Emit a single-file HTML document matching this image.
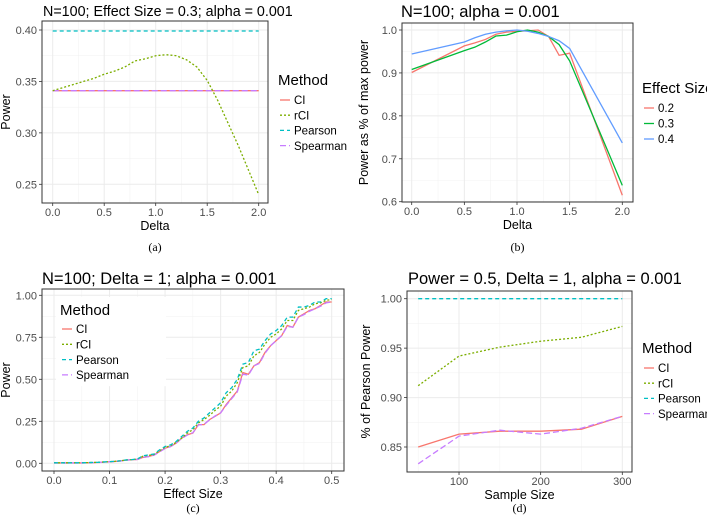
<!DOCTYPE html>
<html><head><meta charset="utf-8">
<style>
html,body{margin:0;padding:0;background:#fff;}
svg{display:block;font-family:"Liberation Sans",sans-serif;}
.cap{font-family:"Liberation Serif",serif;}
</style></head>
<body>
<svg id="fig" width="707" height="522" viewBox="0 0 707 522"></svg>
<script>
// ---- Panel (a) data ----
const aDelta = [0,0.1,0.2,0.3,0.4,0.5,0.6,0.7,0.8,0.9,1.0,1.1,1.2,1.3,1.4,1.5,1.6,1.7,1.8,1.9,2.0];
const aRCI = [0.341,0.344,0.347,0.350,0.353,0.357,0.360,0.364,0.370,0.372,0.375,0.376,0.375,0.371,0.364,0.351,0.332,0.310,0.288,0.264,0.240];
const aCI = [0.341,0.341,0.341,0.341,0.341,0.341,0.341,0.341,0.341,0.341,0.341,0.341,0.341,0.341,0.341,0.341,0.341,0.341,0.341,0.341,0.341];
const aPearson = [0.399,0.399,0.399,0.399,0.399,0.399,0.399,0.399,0.399,0.399,0.399,0.399,0.399,0.399,0.399,0.399,0.399,0.399,0.399,0.399,0.399];
const aSpearman = aCI.slice();
const aXTicks = [0,0.5,1,1.5,2];
const aXLabels = ["0.0","0.5","1.0","1.5","2.0"];
const aYTicks = [0.25,0.30,0.35,0.40];
const aYLabels = ["0.25","0.30","0.35","0.40"];
// ---- Panel (b) data ----
const bDelta = [0,0.5,0.6,0.7,0.8,0.9,1.0,1.1,1.2,1.3,1.4,1.5,2.0];
const bES02 = [0.901,0.963,0.970,0.978,0.990,0.995,0.997,0.998,1.000,0.985,0.941,0.946,0.615];
const bES03 = [0.908,0.952,0.960,0.972,0.986,0.988,0.996,1.000,0.995,0.985,0.966,0.928,0.638];
const bES04 = [0.944,0.972,0.982,0.990,0.995,0.998,1.000,0.997,0.992,0.985,0.975,0.957,0.737];
const bXTicks = [0,0.5,1,1.5,2];
const bXLabels = ["0.0","0.5","1.0","1.5","2.0"];
const bYTicks = [0.6,0.7,0.8,0.9,1.0];
const bYLabels = ["0.6","0.7","0.8","0.9","1.0"];
// ---- Panel (c) data ----
const cES = [0,0.01,0.02,0.03,0.04,0.05,0.06,0.07,0.08,0.09,0.1,0.11,0.12,0.13,0.14,0.15,0.16,0.17,0.18,0.19,0.2,0.21,0.22,0.23,0.24,0.25,0.26,0.27,0.28,0.29,0.3,0.31,0.32,0.33,0.34,0.35,0.36,0.37,0.38,0.39,0.4,0.41,0.42,0.43,0.44,0.45,0.46,0.47,0.48,0.49,0.5];
const cPearson = [0.003,0.003,0.003,0.003,0.003,0.003,0.004,0.005,0.006,0.008,0.010,0.012,0.015,0.020,0.022,0.025,0.045,0.050,0.055,0.080,0.100,0.110,0.130,0.160,0.190,0.210,0.250,0.270,0.300,0.330,0.360,0.420,0.450,0.500,0.590,0.600,0.670,0.680,0.730,0.770,0.790,0.820,0.870,0.870,0.930,0.930,0.940,0.960,0.960,0.980,0.980];
const cRCI = [0.003,0.003,0.003,0.003,0.003,0.003,0.004,0.005,0.006,0.008,0.010,0.012,0.015,0.020,0.022,0.025,0.042,0.047,0.052,0.075,0.095,0.105,0.125,0.150,0.180,0.200,0.240,0.260,0.285,0.315,0.340,0.400,0.430,0.480,0.570,0.580,0.640,0.660,0.710,0.750,0.770,0.800,0.850,0.850,0.910,0.920,0.930,0.950,0.955,0.970,0.975];
const cCI = [0.002,0.002,0.002,0.002,0.002,0.002,0.003,0.004,0.005,0.007,0.009,0.011,0.014,0.019,0.021,0.023,0.035,0.040,0.050,0.070,0.090,0.100,0.120,0.150,0.170,0.180,0.230,0.230,0.260,0.280,0.300,0.350,0.390,0.430,0.540,0.530,0.580,0.600,0.660,0.700,0.730,0.760,0.820,0.810,0.870,0.890,0.910,0.920,0.940,0.960,0.960];
const cSpearman = [0.002,0.002,0.002,0.002,0.002,0.002,0.003,0.004,0.005,0.007,0.009,0.011,0.014,0.019,0.021,0.023,0.035,0.040,0.048,0.068,0.088,0.100,0.120,0.148,0.168,0.182,0.228,0.232,0.258,0.282,0.300,0.345,0.385,0.425,0.530,0.525,0.580,0.595,0.655,0.700,0.730,0.760,0.815,0.810,0.870,0.885,0.905,0.920,0.935,0.955,0.960];
const cXTicks = [0,0.1,0.2,0.3,0.4,0.5];
const cXLabels = ["0.0","0.1","0.2","0.3","0.4","0.5"];
const cYTicks = [0,0.25,0.5,0.75,1];
const cYLabels = ["0.00","0.25","0.50","0.75","1.00"];
// ---- Panel (d) data ----
const dN = [50,100,150,200,250,300];
const dPearson = [1,1,1,1,1,1];
const dRCI = [0.912,0.942,0.951,0.957,0.961,0.972];
const dCI = [0.850,0.863,0.866,0.866,0.868,0.881];
const dSpearman = [0.833,0.861,0.867,0.863,0.869,0.881];
const dXTicks = [100,200,300];
const dXLabels = ["100","200","300"];
const dYTicks = [0.85,0.90,0.95,1.00];
const dYLabels = ["0.85","0.90","0.95","1.00"];

const NS="http://www.w3.org/2000/svg";
const svg=document.getElementById('fig');
function mk(tag,attrs,parent,text){
  const e=document.createElementNS(NS,tag);
  for(const k in attrs) e.setAttribute(k,attrs[k]);
  if(text!==undefined) e.textContent=text;
  (parent||svg).appendChild(e);
  return e;
}
const RED="#F8766D",OLIVE="#7CAE00",CYAN="#00BFC4",PURPLE="#C77CFF",GREEN="#00BA38",BLUE="#619CFF";

function panel(p){
  const g=mk('g',{});
  
  
  const sx=v=>p.px0+(v-p.x0)/(p.x1-p.x0)*(p.px1-p.px0);
  const sy=v=>p.py0+(v-p.y0)/(p.y1-p.y0)*(p.py1-p.py0);
  mk('rect',{x:p.bx0,y:p.by0,width:p.bx1-p.bx0,height:p.by1-p.by0,fill:'#fff'},g);
  const mg=mk('g',{},g);
  
  
  const xs=p.xt, ys=p.yt;
  const xstep=xs[1]-xs[0], ystep=ys[1]-ys[0];
  for(let v=xs[0]-xstep/2; ;v+=xstep){const X=sx(v); if(X>p.bx1) break; if(X>p.bx0) mk('line',{x1:X,x2:X,y1:p.by0,y2:p.by1,stroke:'#f3f3f3','stroke-width':0.6},mg);}
  for(let v=ys[0]-ystep/2; ;v+=ystep){const Y=sy(v); if(Y<p.by0) break; if(Y<p.by1) mk('line',{x1:p.bx0,x2:p.bx1,y1:Y,y2:Y,stroke:'#f3f3f3','stroke-width':0.6},mg);}
  const gg=mk('g',{},g);
  
  
  xs.forEach((v,i)=>{const X=sx(v);
    mk('line',{x1:X,x2:X,y1:p.by0,y2:p.by1,stroke:'#ebebeb','stroke-width':1},gg);
    mk('line',{x1:X,x2:X,y1:p.by1,y2:p.by1+3,stroke:'#333','stroke-width':0.8},g);
    const t=mk('text',{x:X,y:p.by1+13,'font-size':11,'text-anchor':'middle',fill:'#4d4d4d'},g,p.xl[i]);
    
    
  });
  ys.forEach((v,i)=>{const Y=sy(v);
    mk('line',{x1:p.bx0,x2:p.bx1,y1:Y,y2:Y,stroke:'#ebebeb','stroke-width':1},gg);
    mk('line',{x1:p.bx0-3,x2:p.bx0,y1:Y,y2:Y,stroke:'#333','stroke-width':0.8},g);
    const t=mk('text',{x:p.bx0-5,y:Y+4,'font-size':11,'text-anchor':'end',fill:'#4d4d4d'},g,p.yl[i]);
    
    
  });
  p.series.forEach(s=>{
    const pts=s.x.map((v,i)=>sx(v).toFixed(2)+','+sy(s.y[i]).toFixed(2)).join(' ');
    const l=mk('polyline',{points:pts,fill:'none',stroke:s.c,'stroke-width':1.3,'stroke-dasharray':s.d||'none'},g);
    
    
  });
  const b=mk('rect',{x:p.bx0,y:p.by0,width:p.bx1-p.bx0,height:p.by1-p.by0,fill:'none',stroke:'#333','stroke-width':1},g);
  
  
  const ti=mk('text',{x:p.tx,y:p.ty,'font-size':p.tfs||16.5,fill:'#000'},g,p.title);
  
  
  const xt=mk('text',{x:(p.bx0+p.bx1)/2,y:p.by1+27,'font-size':12.5,'text-anchor':'middle'},g,p.xtitle);
  
  
  const ycx=p.ytx, ycy=(p.by0+p.by1)/2;
  const yt=mk('text',{x:ycx,y:ycy,'font-size':12.5,'text-anchor':'middle',transform:`rotate(-90 ${ycx} ${ycy})`},g,p.ytitle);
  
  
  const cp=mk('text',{x:(p.bx0+p.bx1)/2,y:p.capy,'font-size':12,'text-anchor':'middle',class:'cap'},g,p.cap);
  
  
  const lg=mk('g',{},g);
  
  
  if(p.legBg) mk('rect',{x:p.lx-4,y:p.ly-18,width:110,height:p.leg.length*15.3+28,fill:'#fff'},lg);
  mk('text',{x:p.lx,y:p.ly,'font-size':15},lg,p.legTitle);
  p.leg.forEach((e,i)=>{
    const y=p.ly+p.l0+i*p.ls;
    const le=mk('g',{},lg);
    
    
    mk('line',{x1:p.lx+2,x2:p.lx+12,y1:y,y2:y,stroke:e.c,'stroke-width':1.3,'stroke-dasharray':e.d||'none'},le);
    mk('text',{x:p.lx+16,y:y+4.2,'font-size':11.5},le,e.n);
  });
}
const methodLeg=[{n:'CI',c:RED},{n:'rCI',c:OLIVE,d:'2,2'},{n:'Pearson',c:CYAN,d:'4,3'},{n:'Spearman',c:PURPLE,d:'6,3'}];

panel({name:'panel-a',bx0:42,bx1:268,by0:21,by1:203,px0:52.7,px1:258.7,x0:0,x1:2,py0:184.3,py1:30,y0:0.25,y1:0.40,
  xt:aXTicks,xl:aXLabels,yt:aYTicks,yl:aYLabels,title:'N=100; Effect Size = 0.3; alpha = 0.001',tx:43,ty:16,tfs:14.3,
  xtitle:'Delta',ytitle:'Power',ytx:10,cap:'(a)',capy:251,
  series:[{n:'line-pearson',x:aDelta,y:aPearson,c:CYAN,d:'4,3'},{n:'line-ci',x:aDelta,y:aCI,c:RED},{n:'line-spearman',x:aDelta,y:aSpearman,c:PURPLE,d:'6,3'},{n:'line-rci',x:aDelta,y:aRCI,c:OLIVE,d:'2,2'}],
  legTitle:'Method',lx:278,ly:85,l0:15,ls:15.2,leg:methodLeg});
panel({name:'panel-b',bx0:402,bx1:633,by0:23,by1:202,px0:411.7,px1:622.3,x0:0,x1:2,py0:201.7,py1:30,y0:0.6,y1:1.0,
  xt:bXTicks,xl:bXLabels,yt:bYTicks,yl:bYLabels,title:'N=100; alpha = 0.001',tx:401,ty:17,
  xtitle:'Delta',ytitle:'Power as % of max power',ytx:368,cap:'(b)',capy:251,
  series:[{n:'line-es-0.2',x:bDelta,y:bES02,c:RED},{n:'line-es-0.3',x:bDelta,y:bES03,c:GREEN},{n:'line-es-0.4',x:bDelta,y:bES04,c:BLUE}],
  legTitle:'Effect Size',lx:642,ly:93,l0:15,ls:15.5,leg:[{n:'0.2',c:RED},{n:'0.3',c:GREEN},{n:'0.4',c:BLUE}]});
panel({name:'panel-c',bx0:42,bx1:344,by0:289,by1:471,px0:54,px1:331.7,x0:0,x1:0.5,py0:463.3,py1:295.3,y0:0,y1:1,
  xt:cXTicks,xl:cXLabels,yt:cYTicks,yl:cYLabels,title:'N=100; Delta = 1; alpha = 0.001',tx:42,ty:284,
  xtitle:'Effect Size',ytitle:'Power',ytx:10,cap:'(c)',capy:512,
  series:[{n:'line-ci',x:cES,y:cCI,c:RED},{n:'line-spearman',x:cES,y:cSpearman,c:PURPLE,d:'6,3'},{n:'line-rci',x:cES,y:cRCI,c:OLIVE,d:'2,2'},{n:'line-pearson',x:cES,y:cPearson,c:CYAN,d:'4,3'}],
  legTitle:'Method',lx:60,ly:315,l0:14,ls:15.3,leg:methodLeg,legBg:true});
panel({name:'panel-d',bx0:407,bx1:632,by0:291,by1:472,px0:418.2,px1:622.3,x0:50,x1:300,py0:447,py1:298.7,y0:0.85,y1:1.0,
  xt:dXTicks,xl:dXLabels,yt:dYTicks,yl:dYLabels,title:'Power = 0.5, Delta = 1, alpha = 0.001',tx:408,ty:284,
  xtitle:'Sample Size',ytitle:'% of Pearson Power',ytx:370,cap:'(d)',capy:512,
  series:[{n:'line-pearson',x:dN,y:dPearson,c:CYAN,d:'4,3'},{n:'line-rci',x:dN,y:dRCI,c:OLIVE,d:'2,2'},{n:'line-ci',x:dN,y:dCI,c:RED},{n:'line-spearman',x:dN,y:dSpearman,c:PURPLE,d:'6,3'}],
  legTitle:'Method',lx:642,ly:353,l0:15,ls:15.2,leg:methodLeg});
</script>
</body></html>
